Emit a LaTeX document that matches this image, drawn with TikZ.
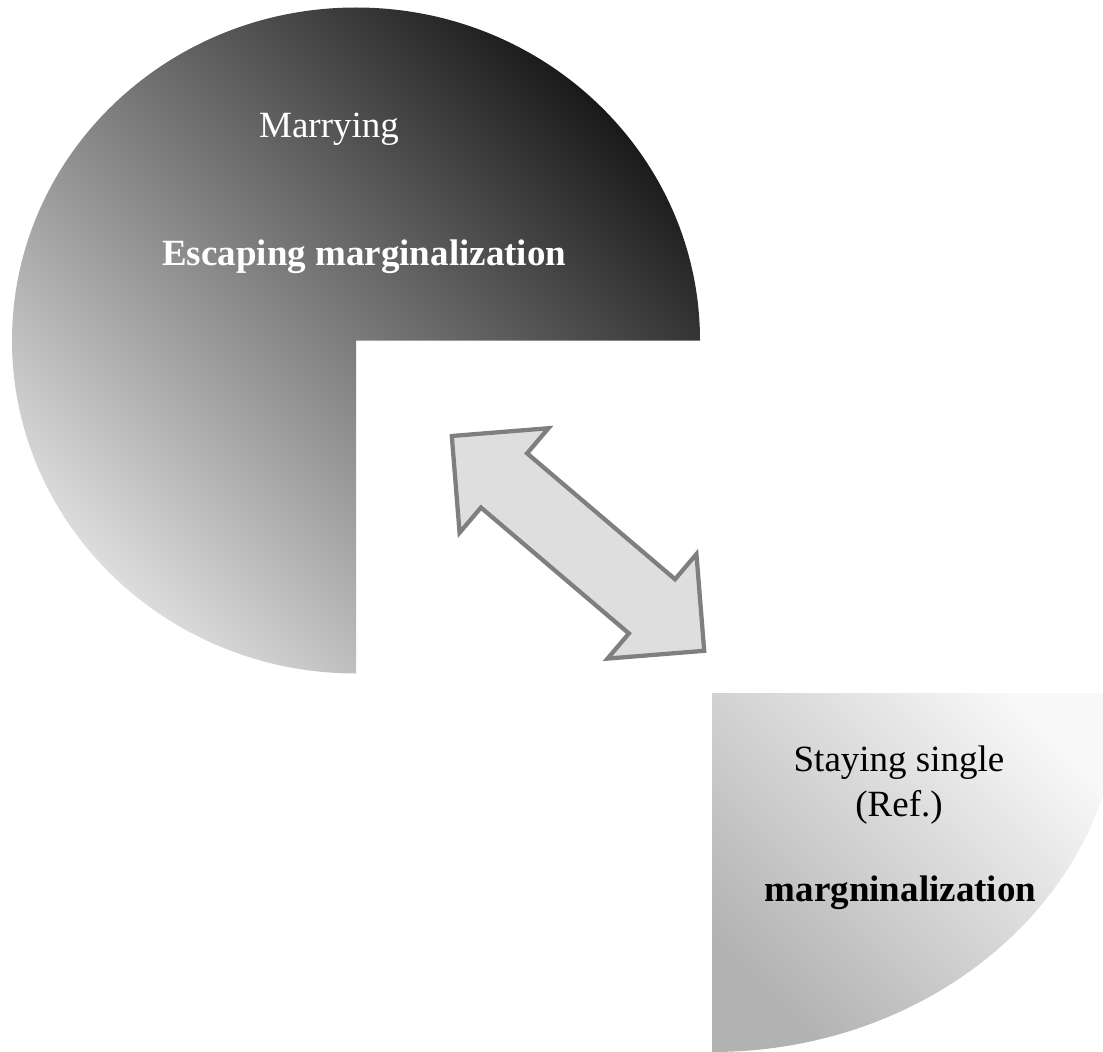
\documentclass[tikz,border=0pt]{standalone}
\usepackage{fontspec}
\setmainfont{Liberation Serif}
\usetikzlibrary{shapes.arrows}
\definecolor{piedark}{HTML}{1A1A1A}
\definecolor{pielight}{HTML}{DCDCDC}
\definecolor{slicedark}{HTML}{B2B2B2}
\definecolor{slicelight}{HTML}{F8F8F8}
\definecolor{arrowfill}{HTML}{DEDEDE}
\definecolor{arrowline}{HTML}{7F7F7F}
\tikzstyle{bigpie} = [top color=piedark, bottom color=pielight, shading angle=-45]
\tikzstyle{slice} = [top color=slicelight, bottom color=slicedark, shading angle=-45]
\tikzstyle{pietext} = [font=\fontsize{27.75}{33}\selectfont, inner sep=0pt, anchor=base]
\tikzstyle{piebold} = [pietext, font=\fontsize{27.75}{33}\selectfont\bfseries]
\tikzstyle{swaparrow} = [double arrow, double arrow tip angle=90, double arrow head extend=24.75pt, minimum width=99.75pt, minimum height=248.6pt, inner xsep=0pt, inner ysep=25.1pt, fill=arrowfill, draw=arrowline, line width=3.2pt]

\begin{document}
\begin{tikzpicture}[x=0.75pt, y=0.75pt]
\useasboundingbox (0,0) rectangle (1103,-1052);
\clip (0,0) rectangle (1103,-1052);

% the two pieces
\shade[bigpie] (356,-340.5) -- ++(344,0) arc[start angle=0, end angle=270, x radius=344, y radius=333] -- cycle;
\shade[slice] (712,-693) -- ++(408,0) arc[start angle=0, end angle=-90, x radius=408, y radius=359] -- cycle;

\node (marry) [pietext, text=white] at (329,-137.3) {Marrying};
\node (escape) [piebold, text=white] at (364.2,-265) {Escaping marginalization};

\node (single) [pietext] at (899,-771.7) {Staying single};
\node (ref) [pietext] at (899,-816) {(Ref.)};
\node (margin) [piebold] at (900.5,-901.7) {margninalization};

\node (link) [swaparrow, rotate=-40.4] at (578,-543.4) {};
\end{tikzpicture}
\end{document}
